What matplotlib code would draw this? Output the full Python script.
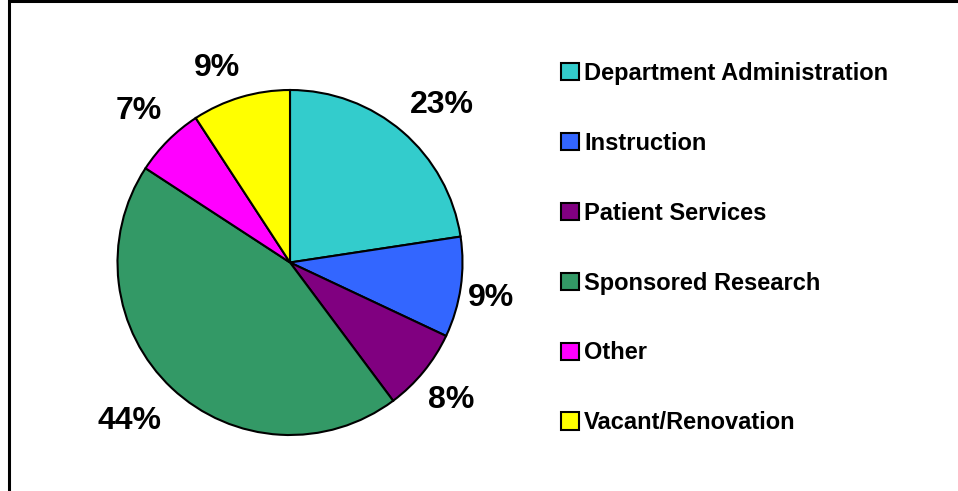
import matplotlib
matplotlib.use("Agg")
import matplotlib.pyplot as plt
from matplotlib.patches import Rectangle

categories = ["Department Administration", "Instruction", "Patient Services",
              "Sponsored Research", "Other", "Vacant/Renovation"]
values = [22.6, 9.4, 7.8, 44.4, 6.6, 9.2]
colors = ["#33CCCC", "#3366FF", "#800080", "#339966", "#FF00FF", "#FFFF00"]
# percentage label placement, in pie-radius units relative to the centre
label_pos = [(0.878, 0.936), (1.168, -0.188), (0.936, -0.777),
             (-0.933, -0.899), (-0.875, 0.896), (-0.426, 1.145)]

plt.rcParams['font.family'] = ['Liberation Sans', 'DejaVu Sans']
plt.rcParams['font.weight'] = 'bold'

W, H = 958, 491
fig = plt.figure(figsize=(W / 100, H / 100), dpi=100)
fig.patch.set_facecolor('white')

cx, cy, r = 290, 262.5, 172.5
ax = fig.add_axes([(cx - r) / W, (H - cy - r) / H, 2 * r / W, 2 * r / H])
wedges, texts, autotexts = ax.pie(
    values, colors=colors, startangle=90, counterclock=False,
    autopct=lambda p: f"{round(p)}%", pctdistance=1.23,
    wedgeprops=dict(edgecolor='black', linewidth=1.5),
    textprops=dict(fontsize=23, fontweight='bold', color='black'))
for t, pos in zip(autotexts, label_pos):
    t.set_position(pos)
    t.set_va('center_baseline')
ax.set_xlim(-1, 1)
ax.set_ylim(-1, 1)
ax.set_aspect('equal')
ax.axis('off')

leg = fig.legend(wedges, categories, loc='upper left',
                 bbox_to_anchor=(561 / W, 1 - 62 / H),
                 frameon=False, fontsize=17,
                 handlelength=0.76, handleheight=0.76, handletextpad=0.22,
                 labelspacing=1.985, borderpad=0, borderaxespad=0)
for t in leg.get_texts():
    t.set_fontweight('bold')

# outer frame (left and top edges visible)
fig.add_artist(Rectangle((9 / W, -0.1), 1.2, 1 - 1 / H + 0.1,
                         transform=fig.transFigure, fill=False,
                         edgecolor='black', linewidth=2.2, clip_on=False))

fig.savefig("out.png", dpi=100)
